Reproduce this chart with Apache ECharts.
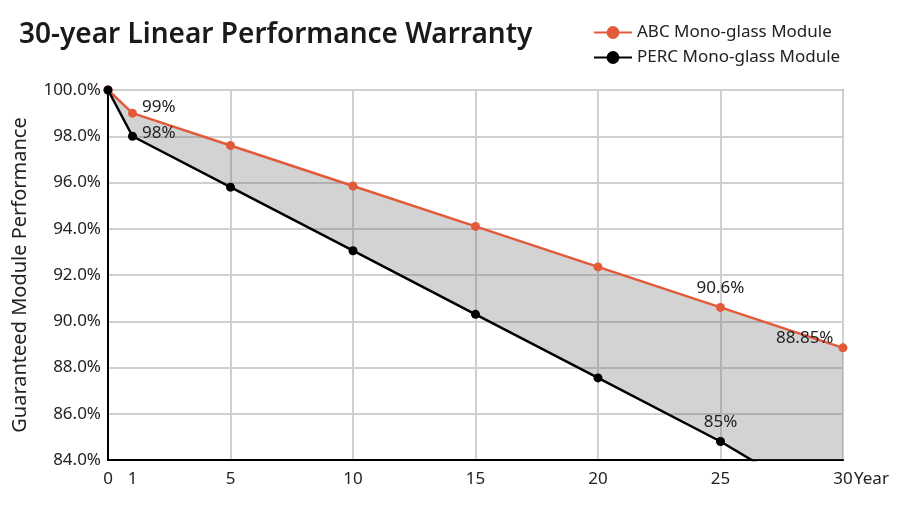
<!DOCTYPE html>
<html><head><meta charset="utf-8">
<script src="https://cdn.jsdelivr.net/npm/echarts@6/dist/echarts.min.js"></script>
<style>html,body{margin:0;padding:0;background:#fff}#c{width:904px;height:512px}</style>
</head><body><div id="c"></div>
<script>
const years = [0, 1, 5, 10, 15, 20, 25, 30];
const abcValues = [100, 99, 97.6, 95.85, 94.1, 92.35, 90.6, 88.85];
const percValues = [100, 98, 95.8, 93.05, 90.3, 87.55, 84.8, 81.65];
const abcLabels = ['', '99%', '', '', '', '', '90.6%', '88.85%'];
const percLabels = ['', '98%', '', '', '', '', '85%', ''];
const xTicks = [0, 1, 5, 10, 15, 20, 25, 30];

const FONT = 'Noto Sans';
const ORANGE = '#e35a3b';
const labelPos = {
  '99%': {position: 'right', offset: [0, -6]},
  '98%': {position: 'right', offset: [0, -3]},
  '90.6%': {position: 'top', distance: 6},
  '88.85%': {position: 'left', offset: [0, -10]},
  '85%': {position: 'top', distance: 6}
};
function build(vals, labels) {
  return years.map((x, i) => {
    const item = {value: [x, vals[i]]};
    if (labels[i]) {
      const p = labelPos[labels[i]];
      item.label = Object.assign({show: true, formatter: labels[i], color: '#222', fontSize: 17, fontFamily: FONT}, p);
    }
    return item;
  });
}
// band between the two curves: one quad per interval
const bandData = years.slice(0, -1).map((x, i) => [x, abcValues[i], percValues[i], years[i + 1], abcValues[i + 1], percValues[i + 1]]);

const chart = echarts.init(document.getElementById('c'), null, {renderer: 'canvas'});
chart.setOption({
  animation: false,
  backgroundColor: '#fff',
  title: {
    text: '30-year Linear Performance Warranty',
    left: 14, top: 16,
    textStyle: {fontFamily: FONT, fontSize: 28, fontWeight: 600, color: '#1a1a1a'}
  },
  legend: {
    orient: 'vertical', left: 588, top: 19, itemGap: 8,
    itemWidth: 38, itemHeight: 16,
    data: ['ABC Mono-glass Module', 'PERC Mono-glass Module'],
    textStyle: {fontFamily: FONT, fontSize: 17, color: '#222'}
  },
  grid: {left: 108, right: 61, top: 90, bottom: 52, show: true, borderColor: '#888', borderWidth: 2, backgroundColor: 'transparent'},
  xAxis: {
    type: 'value', min: 0, max: 30,
    name: 'Year', nameLocation: 'end', nameGap: 11, nameMoveOverlap: false,
    nameTextStyle: {fontFamily: FONT, fontSize: 17, color: '#222', verticalAlign: 'top', padding: [11, 0, 0, 0]},
    axisLine: {show: true, onZero: false, lineStyle: {color: '#000', width: 2}},
    axisTick: {show: false},
    axisLabel: {customValues: xTicks, margin: 11, fontFamily: FONT, fontSize: 17, color: '#222'},
    splitLine: {show: true, lineStyle: {color: '#d0d0d0', width: 2}},
    axisPointer: {show: false}
  },
  yAxis: {
    type: 'value', min: 84, max: 100, interval: 2,
    name: 'Guaranteed Module Performance', nameLocation: 'middle', nameGap: 78,
    nameTextStyle: {fontFamily: FONT, fontSize: 20, color: '#222'},
    axisLine: {show: true, lineStyle: {color: '#000', width: 2}},
    axisTick: {show: false},
    axisLabel: {formatter: v => v.toFixed(1) + '%', margin: 7, fontFamily: FONT, fontSize: 17, color: '#222'},
    splitLine: {show: true, lineStyle: {color: '#d0d0d0', width: 2}}
  },
  series: [
    {
      name: 'band', type: 'custom', data: bandData, silent: true, z: 1,
      renderItem: function (params, api) {
        const p1 = api.coord([api.value(0), api.value(1)]);
        const p2 = api.coord([api.value(3), api.value(4)]);
        const p3 = api.coord([api.value(3), api.value(5)]);
        const p4 = api.coord([api.value(0), api.value(2)]);
        const cs = params.coordSys;
        return {
          type: 'polygon',
          shape: {points: [p1, p2, p3, p4]},
          style: {fill: 'rgba(80,80,80,0.25)', stroke: 'none'},
          clipPath: {type: 'rect', shape: {x: cs.x, y: cs.y, width: cs.width, height: cs.height}}
        };
      }
    },
    {name: 'ABC Mono-glass Module', type: 'line', data: build(abcValues, abcLabels), color: ORANGE,
     symbol: 'circle', symbolSize: 9, lineStyle: {color: ORANGE, width: 2.5}, itemStyle: {color: ORANGE}, z: 3},
    {name: 'PERC Mono-glass Module', type: 'line', data: build(percValues, percLabels), color: '#000',
     symbol: 'circle', symbolSize: 9, lineStyle: {color: '#000', width: 2.5}, itemStyle: {color: '#000'}, z: 4}
  ]
});
</script></body></html>
